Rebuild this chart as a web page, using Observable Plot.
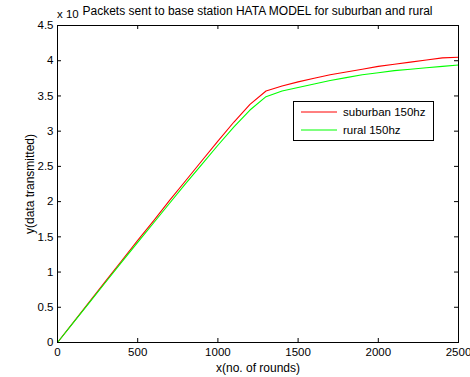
<!DOCTYPE html>
<html>
<head>
<meta charset="utf-8">
<script src="https://cdn.jsdelivr.net/npm/d3@7"></script>
<script src="https://cdn.jsdelivr.net/npm/@observablehq/plot@0.6"></script>
<style>
  html, body { margin: 0; padding: 0; background: white; }
  #wrap { position: relative; width: 470px; height: 377px; font-family: "Liberation Sans", Arial, sans-serif; font-size: 11px; color: black; }
  #title { position: absolute; top: 5px; left: 57px; width: 401px; text-align: center; white-space: nowrap; line-height: 13px; font-size: 12px; }
  #expo { position: absolute; top: 8px; left: 57px; white-space: nowrap; line-height: 12px; font-size: 11.5px; }
  #legend { position: absolute; left: 293px; top: 101px; width: 139px; height: 38px; border: 1px solid black; background: white; }
  .row { position: absolute; left: 0; height: 14px; line-height: 14px; white-space: nowrap; font-size: 11.5px; }
  .row svg { position: absolute; left: 7px; top: 6px; }
  .row span { position: absolute; left: 49px; top: 0; }
</style>
</head>
<body>
<div id="wrap">
  <div id="chart"></div>
  <div id="expo">x 10</div>
  <div id="title"></div>
  <div id="legend"></div>
</div>
<script>
const titleText = "Packets sent to base station HATA MODEL for suburban and rural";
const xLabel = "x(no. of rounds)";
const yLabel = "y(data transmitted)";
const xTicks = [0, 500, 1000, 1500, 2000, 2500];
const yTicks = [0, 0.5, 1, 1.5, 2, 2.5, 3, 3.5, 4, 4.5];
const rounds = [0,100,200,300,400,500,600,700,800,900,1000,1100,1200,1300,1400,1500,1600,1700,1800,1900,2000,2100,2200,2300,2400,2500];
const suburban = [0,0.29,0.58,0.87,1.16,1.45,1.73,2.02,2.30,2.58,2.86,3.13,3.38,3.57,3.64,3.70,3.75,3.80,3.84,3.88,3.92,3.95,3.98,4.01,4.04,4.05];
const rural = [0,0.285,0.57,0.855,1.14,1.42,1.70,1.98,2.26,2.53,2.80,3.06,3.30,3.49,3.57,3.62,3.67,3.72,3.76,3.80,3.83,3.86,3.88,3.90,3.92,3.94];
const seriesNames = ["suburban 150hz", "rural 150hz"];
const seriesColors = ["#ff0000", "#00ff00"];

const data = [];
[suburban, rural].forEach((vals, i) => {
  vals.forEach((v, j) => data.push({x: rounds[j], y: v, s: seriesNames[i]}));
});

const W = 470, H = 377, mL = 57, mR = 12, mT = 25, mB = 35;
const pw = W - mL - mR, ph = H - mT - mB, tk = 4;

const chart = Plot.plot({
  width: W, height: H,
  marginLeft: mL, marginRight: mR, marginTop: mT, marginBottom: mB,
  style: { fontFamily: "Liberation Sans, Arial, sans-serif", fontSize: "11.5px", background: "white", color: "black" },
  x: { domain: [0, 2500] },
  y: { domain: [0, 4.5] },
  color: { domain: seriesNames, range: seriesColors },
  marks: [
    Plot.axisX({ ticks: xTicks, tickSize: 0, tickPadding: 5, tickFormat: d => String(d), label: null }),
    Plot.axisX({ ticks: [], label: xLabel, labelAnchor: "center", labelArrow: "none", labelOffset: 29, fontSize: 12 }),
    Plot.axisY({ ticks: yTicks, tickSize: 0, tickPadding: 4, tickFormat: d => String(d), label: null }),
    Plot.axisY({ ticks: [], label: yLabel, labelAnchor: "center", labelArrow: "none", labelOffset: 32, fontSize: 12 }),
    Plot.ruleY(yTicks, { stroke: "black", insetRight: pw - tk }),
    Plot.ruleY(yTicks, { stroke: "black", insetLeft: pw - tk }),
    Plot.ruleX(xTicks, { stroke: "black", insetTop: ph - tk }),
    Plot.ruleX(xTicks, { stroke: "black", insetBottom: ph - tk }),
    Plot.line(data, { x: "x", y: "y", z: "s", stroke: "s", strokeWidth: 1.1 }),
    Plot.frame({ stroke: "black", strokeWidth: 1 })
  ]
});
document.getElementById("chart").appendChild(chart);
document.getElementById("title").textContent = titleText;

const legend = document.getElementById("legend");
seriesNames.forEach((n, i) => {
  const row = document.createElement("div");
  row.className = "row";
  row.style.top = (3 + i * 18) + "px";
  row.style.width = "139px";
  row.innerHTML = `<svg width="36" height="2"><line x1="0" y1="1" x2="36" y2="1" stroke="${seriesColors[i]}" stroke-width="1"/></svg><span>${n}</span>`;
  legend.appendChild(row);
});
</script>
</body>
</html>
